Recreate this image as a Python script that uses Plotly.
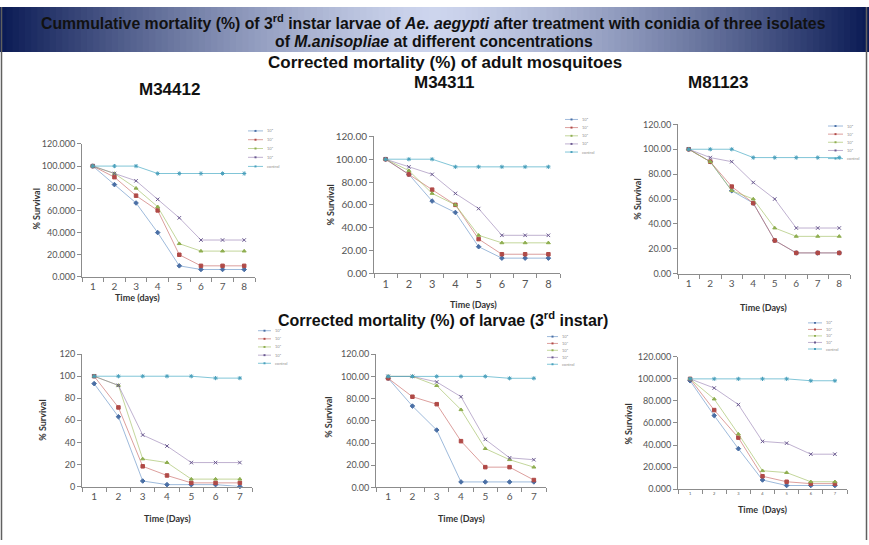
import plotly.graph_objects as go

W, H = 869, 545

# ---------------- data ----------------
days8 = [1, 2, 3, 4, 5, 6, 7, 8]
days7 = [1, 2, 3, 4, 5, 6, 7]
tick8 = ["1", "2", "3", "4", "5", "6", "7", "8"]
tick7 = ["1", "2", "3", "4", "5", "6", "7"]
series_names = ["10⁸", "10⁷", "10⁶", "10⁵", "control"]

# Adult mosquitoes, M34412
adult_m34412_s1 = [100, 83.3, 66.7, 40.0, 10.0, 6.7, 6.7, 6.7]
adult_m34412_s2 = [100, 90.0, 73.3, 60.0, 20.0, 10.0, 10.0, 10.0]
adult_m34412_s3 = [100, 93.3, 80.0, 63.3, 30.0, 23.3, 23.3, 23.3]
adult_m34412_s4 = [100, 93.3, 86.7, 70.0, 53.3, 33.3, 33.3, 33.3]
adult_m34412_ctl = [100, 100, 100, 93.3, 93.3, 93.3, 93.3, 93.3]

# Adult mosquitoes, M34311
adult_m34311_s1 = [100, 86.7, 63.3, 53.3, 23.3, 13.3, 13.3, 13.3]
adult_m34311_s2 = [100, 86.7, 73.3, 60.0, 30.0, 16.7, 16.7, 16.7]
adult_m34311_s3 = [100, 90.0, 70.0, 60.0, 33.3, 26.7, 26.7, 26.7]
adult_m34311_s4 = [100, 93.3, 86.7, 70.0, 56.7, 33.3, 33.3, 33.3]
adult_m34311_ctl = [100, 100, 100, 93.3, 93.3, 93.3, 93.3, 93.3]

# Adult mosquitoes, M81123
adult_m81123_s1 = [100, 90.0, 66.7, 56.7, 26.7, 16.7, 16.7, 16.7]
adult_m81123_s2 = [100, 90.0, 70.0, 56.7, 26.7, 16.7, 16.7, 16.7]
adult_m81123_s3 = [100, 90.0, 66.7, 60.0, 36.7, 30.0, 30.0, 30.0]
adult_m81123_s4 = [100, 93.3, 90.0, 73.3, 60.0, 36.7, 36.7, 36.7]
adult_m81123_ctl = [100, 100, 100, 93.3, 93.3, 93.3, 93.3, 93.3]

# Larvae, M34412
larvae_m34412_s1 = [93.3, 63.3, 5.0, 1.7, 1.7, 1.7, 0.0]
larvae_m34412_s2 = [100, 71.7, 18.3, 10.0, 3.3, 3.3, 3.3]
larvae_m34412_s3 = [100, 91.7, 25.0, 21.7, 6.7, 6.7, 6.7]
larvae_m34412_s4 = [100, 91.7, 46.7, 36.7, 21.7, 21.7, 21.7]
larvae_m34412_ctl = [100, 100, 100, 100, 100, 98.3, 98.3]

# Larvae, M34311
larvae_m34311_s1 = [98.3, 73.3, 51.7, 5.0, 5.0, 5.0, 5.0]
larvae_m34311_s2 = [98.3, 81.7, 75.0, 41.7, 18.3, 18.3, 6.7]
larvae_m34311_s3 = [100, 100, 91.7, 70.0, 35.0, 25.0, 18.3]
larvae_m34311_s4 = [100, 100, 95.0, 81.7, 43.3, 26.7, 25.0]
larvae_m34311_ctl = [100, 100, 100, 100, 100, 98.3, 98.3]

# Larvae, M81123
larvae_m81123_s1 = [98.3, 66.7, 36.7, 8.3, 3.3, 3.3, 3.3]
larvae_m81123_s2 = [100, 71.7, 46.7, 11.7, 6.7, 5.0, 5.0]
larvae_m81123_s3 = [100, 81.7, 50.0, 16.7, 15.0, 6.7, 6.7]
larvae_m81123_s4 = [100, 91.7, 76.7, 43.3, 41.7, 31.7, 31.7]
larvae_m81123_ctl = [100, 100, 100, 100, 100, 98.3, 98.3]

# ---------------- styles ----------------
line_colors = ["rgba(79,129,189,0.55)", "rgba(192,80,77,0.55)", "rgba(155,187,89,0.6)",
               "rgba(128,100,162,0.5)", "rgba(75,172,198,0.7)"]
marker_colors = ["#4A6FA5", "#B04A47", "#8FAE50", "#6A5A90", "#4AA0BC"]
marker_symbols = ["diamond", "square", "triangle-up", "x-thin-open", "asterisk-open"]

AX = "#8C8C8C"
TICKC = "#555555"
TICKFONT = "Lato, Open Sans, DejaVu Sans, sans-serif"

def fx(px):
    return px / W

def fy(py):
    return 1 - py / H

charts = [
    dict(days=days8, ticks=tick8,
         series=[adult_m34412_s1, adult_m34412_s2, adult_m34412_s3, adult_m34412_s4, adult_m34412_ctl],
         xpx=(82, 255), ypx=(276, 140), fmt=".3f", tfs=9,
         ylab=(36, 207), xlab=(137, 297), xtitle="Time (days)",
         leg=(248, 263, [126.7, 135.7, 144.7, 153.7, 163.0])),
    dict(days=days8, ticks=tick8,
         series=[adult_m34311_s1, adult_m34311_s2, adult_m34311_s3, adult_m34311_s4, adult_m34311_ctl],
         xpx=(374, 560), ypx=(272.3, 132.3), fmt=".2f", tfs=10,
         ylab=(331, 203), xlab=(474, 304.5), xtitle="Time (Days)",
         leg=(565, 578, [115.0, 123.3, 131.7, 140.0, 148.3])),
    dict(days=days8, ticks=tick8,
         series=[adult_m81123_s1, adult_m81123_s2, adult_m81123_s3, adult_m81123_s4, adult_m81123_ctl],
         xpx=(678, 850), ypx=(272.7, 120), fmt=".2f", tfs=9,
         ylab=(638, 197), xlab=(763, 307), xtitle="Time (Days)",
         leg=(828, 843, [121.7, 130.0, 138.3, 146.7, 155.0])),
    dict(days=days7, ticks=tick7,
         series=[larvae_m34412_s1, larvae_m34412_s2, larvae_m34412_s3, larvae_m34412_s4, larvae_m34412_ctl],
         xpx=(82, 252), ypx=(490.3, 355), fmt="d", tfs=9,
         ylab=(43, 423), xlab=(167, 523), xtitle="Time (Days)",
         leg=(258, 271, [331.0, 339.3, 347.6, 356.0, 364.3])),
    dict(days=days7, ticks=tick7,
         series=[larvae_m34311_s1, larvae_m34311_s2, larvae_m34311_s3, larvae_m34311_s4, larvae_m34311_ctl],
         xpx=(376, 546), ypx=(491.3, 355), fmt=".2f", tfs=9,
         ylab=(329, 420), xlab=(461, 523), xtitle="Time (Days)",
         leg=(547, 558, [337.0, 344.0, 351.0, 358.3, 365.3])),
    dict(days=days7, ticks=tick7,
         series=[larvae_m81123_s1, larvae_m81123_s2, larvae_m81123_s3, larvae_m81123_s4, larvae_m81123_ctl],
         xpx=(678, 847), ypx=(493, 357.7), fmt=".3f", tfs=9, xtfs=4,
         ylab=(629, 427), xlab=(762, 514), xtitle="Time  (Days)",
         leg=(808, 822, [323.0, 329.7, 336.3, 343.0, 349.7])),
]

fig = go.Figure()
layout_axes = {}
annotations = []
shapes = []

# ---- title bar gradient ----
NSTRIP = 140
edge = (10, 26, 84)
center = (206, 214, 238)
for i in range(NSTRIP):
    x0 = i / NSTRIP
    x1 = (i + 1) / NSTRIP
    xm = (x0 + x1) / 2
    t = min(1.0, abs(xm - 0.5) * 2)
    t = t ** 1.35
    c = tuple(int(center[k] + (edge[k] - center[k]) * t) for k in range(3))
    shapes.append(dict(type="rect", xref="paper", yref="paper", x0=x0, x1=x1 + 0.002,
                       y0=fy(46), y1=1, fillcolor="rgb(%d,%d,%d)" % c, line=dict(width=0),
                       layer="below"))

for ci, ch in enumerate(charts):
    k = ci + 1
    xa = "xaxis" if k == 1 else "xaxis%d" % k
    ya = "yaxis" if k == 1 else "yaxis%d" % k
    xr = "x" if k == 1 else "x%d" % k
    yr = "y" if k == 1 else "y%d" % k
    n = len(ch["days"])
    layout_axes[xa] = dict(
        domain=[fx(ch["xpx"][0]), fx(ch["xpx"][1])], anchor=yr,
        range=[0.5, n + 0.5], tickmode="array", tickvals=ch["days"], ticktext=ch["ticks"],
        ticks="", showline=True, linecolor=AX, linewidth=1, showgrid=False, zeroline=False,
        tickfont=dict(family=TICKFONT, size=ch.get("xtfs", ch["tfs"] + 1), color=TICKC),
        minor=dict(tickmode="array", tickvals=[d - 0.5 for d in ch["days"]] + [n + 0.5],
                   ticks="outside", ticklen=4, tickcolor=AX, showgrid=False),
        fixedrange=True,
    )
    layout_axes[ya] = dict(
        domain=[fy(ch["ypx"][0]), fy(ch["ypx"][1])], anchor=xr,
        range=[0, 120], tick0=0, dtick=20, tickformat=ch["fmt"],
        ticks="outside", ticklen=4, tickcolor=AX, showline=True, linecolor=AX, linewidth=1,
        showgrid=False, zeroline=False,
        tickfont=dict(family=TICKFONT, size=ch["tfs"], color=TICKC),
        fixedrange=True,
    )
    for si, vals in enumerate(ch["series"]):
        fig.add_trace(go.Scatter(
            x=ch["days"], y=vals, mode="lines+markers", name=series_names[si],
            xaxis=xr, yaxis=yr, showlegend=False, cliponaxis=False,
            line=dict(color=line_colors[si], width=1),
            marker=dict(symbol=marker_symbols[si], size=3.5, color=marker_colors[si],
                        line=dict(width=1, color=marker_colors[si])),
        ))
    # axis titles
    annotations.append(dict(text="<b>% Survival</b>", xref="paper", yref="paper",
                            x=fx(ch["ylab"][0]), y=fy(ch["ylab"][1]), textangle=-90,
                            showarrow=False, xanchor="center", yanchor="middle",
                            font=dict(family=TICKFONT, size=9, color="#333333")))
    annotations.append(dict(text="<b>" + ch["xtitle"] + "</b>", xref="paper", yref="paper",
                            x=fx(ch["xlab"][0]), y=fy(ch["xlab"][1]),
                            showarrow=False, xanchor="center", yanchor="middle",
                            font=dict(family=TICKFONT, size=9, color="#333333")))
    # mini legend
    lx0, lx1, lys = ch["leg"]
    for si, ly in enumerate(lys):
        shapes.append(dict(type="line", xref="paper", yref="paper", x0=fx(lx0), x1=fx(lx1),
                           y0=fy(ly), y1=fy(ly), line=dict(color=line_colors[si], width=1)))
        xm = (lx0 + lx1) / 2
        shapes.append(dict(type="rect", xref="paper", yref="paper", x0=fx(xm - 1), x1=fx(xm + 1),
                           y0=fy(ly + 1), y1=fy(ly - 1), fillcolor=marker_colors[si],
                           line=dict(width=0)))
        annotations.append(dict(text=series_names[si], xref="paper", yref="paper",
                                x=fx(lx1 + 2), y=fy(ly), showarrow=False, xanchor="left",
                                yanchor="middle", font=dict(family=TICKFONT, size=4, color="#909090")))

TITLEFONT = "Liberation Sans, Arial, sans-serif"
annotations += [
    dict(text="<b>Cummulative mortality (%) of 3<sup>rd</sup> instar larvae of <i>Ae. aegypti</i> after treatment with conidia of three isolates</b>",
         x=fx(433), y=fy(15), xref="paper", yref="paper", showarrow=False, xanchor="center", yanchor="middle",
         font=dict(family=TITLEFONT, size=15.8, color="#111111")),
    dict(text="<b>of <i>M.anisopliae</i> at different concentrations</b>",
         x=fx(434), y=fy(35), xref="paper", yref="paper", showarrow=False, xanchor="center", yanchor="middle",
         font=dict(family=TITLEFONT, size=15.8, color="#111111")),
    dict(text="<b>Corrected mortality (%) of adult mosquitoes</b>",
         x=fx(445), y=fy(57), xref="paper", yref="paper", showarrow=False, xanchor="center", yanchor="middle",
         font=dict(family=TITLEFONT, size=17, color="#111111")),
    dict(text="<b>M34412</b>", x=fx(169), y=fy(84), xref="paper", yref="paper", showarrow=False,
         xanchor="center", yanchor="middle", font=dict(family=TITLEFONT, size=17, color="#111111")),
    dict(text="<b>M34311</b>", x=fx(444), y=fy(77), xref="paper", yref="paper", showarrow=False,
         xanchor="center", yanchor="middle", font=dict(family=TITLEFONT, size=17, color="#111111")),
    dict(text="<b>M81123</b>", x=fx(718), y=fy(77), xref="paper", yref="paper", showarrow=False,
         xanchor="center", yanchor="middle", font=dict(family=TITLEFONT, size=17, color="#111111")),
    dict(text="<b>Corrected mortality (%) of larvae (3<sup>rd</sup> instar)</b>",
         x=fx(443), y=fy(319.5), xref="paper", yref="paper", showarrow=False, xanchor="center", yanchor="middle",
         font=dict(family=TITLEFONT, size=16, color="#111111")),
]

# frame sides
shapes.append(dict(type="line", xref="paper", yref="paper", x0=fx(1.5), x1=fx(1.5), y0=0, y1=1,
                   line=dict(color="#606060", width=1.5), layer="above"))
shapes.append(dict(type="line", xref="paper", yref="paper", x0=fx(866.5), x1=fx(866.5), y0=0, y1=1,
                   line=dict(color="#606060", width=1.5), layer="above"))

fig.update_layout(
    width=W, height=H, margin=dict(l=0, r=0, t=0, b=0),
    paper_bgcolor="white", plot_bgcolor="white",
    showlegend=False, annotations=annotations, shapes=shapes,
    **layout_axes,
)
fig.write_html("out.html", config={"displayModeBar": False, "staticPlot": True},
               post_script="document.body.style.margin='0px';document.body.style.overflow='hidden';")
